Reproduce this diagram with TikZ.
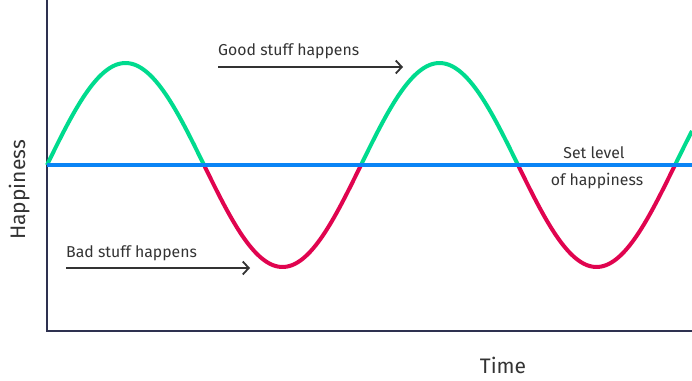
\documentclass[tikz,border=0pt]{standalone}
\usepackage{fontspec}
\setmainfont{Fira Sans}
\usetikzlibrary{arrows.meta}
\definecolor{goodc}{HTML}{00DB8E}
\definecolor{badc}{HTML}{E0044F}
\definecolor{basec}{HTML}{0A84F5}
\definecolor{axisc}{HTML}{2E3150}
\definecolor{txtc}{HTML}{333333}
\tikzset{
  curveline/.style={line width=4pt},
  axisline/.style={draw=axisc, line width=1.4pt},
  labeltxt/.style={text=txtc, font=\fontsize{15.8}{18}\selectfont, inner sep=0pt, anchor=base west},
  axislabel/.style={text=txtc, font=\fontsize{21}{24}\selectfont, inner sep=0pt},
  pointer/.style={draw=txtc, line width=1.8pt, -{Straight Barb[length=6pt,width=13pt,line width=1.8pt]}}
}
\begin{document}
\begin{tikzpicture}[x=1pt,y=-1pt]
\useasboundingbox (0,0) rectangle (692,380);
% axes
\coordinate (ytop) at (47,0);
\coordinate (origin) at (47,331);
\coordinate (xend) at (692,331);
\draw[axisline] (ytop) -- (origin) -- (xend);
% sine curve
\foreach \a/\b/\c in {47/204/goodc, 204/361/badc, 361/518/goodc, 518/675/badc, 675/692/goodc}{
  \draw[curveline, draw=\c] plot[domain=\a:\b, samples=60, smooth] (\x, {165-102*sin((\x-47)/314*360)});
}
% baseline
\coordinate (bstart) at (47,165);
\coordinate (bend) at (692,165);
\draw[draw=basec, line width=4pt] (bstart) -- (bend);
% labels
\node[labeltxt] (good) at (218,55) {Good stuff happens};
\coordinate (goodA) at (218,67);
\coordinate (goodB) at (403,67);
\draw[pointer] (goodA) -- (goodB);
\node[labeltxt] (bad) at (66,257) {Bad stuff happens};
\coordinate (badA) at (66,268);
\coordinate (badB) at (250,268);
\draw[pointer] (badA) -- (badB);
\node[text=txtc, font=\fontsize{15.8}{18}\selectfont, inner sep=0pt, anchor=base] (set1) at (594,158) {Set level};
\node[text=txtc, font=\fontsize{15.8}{18}\selectfont, inner sep=0pt, anchor=base] (set2) at (597,185) {of happiness};
\node[axislabel, rotate=90, anchor=base] (ylab) at (25,190) {Happiness};
\node[axislabel, anchor=base] (xlab) at (503,373) {Time};
\end{tikzpicture}
\end{document}
